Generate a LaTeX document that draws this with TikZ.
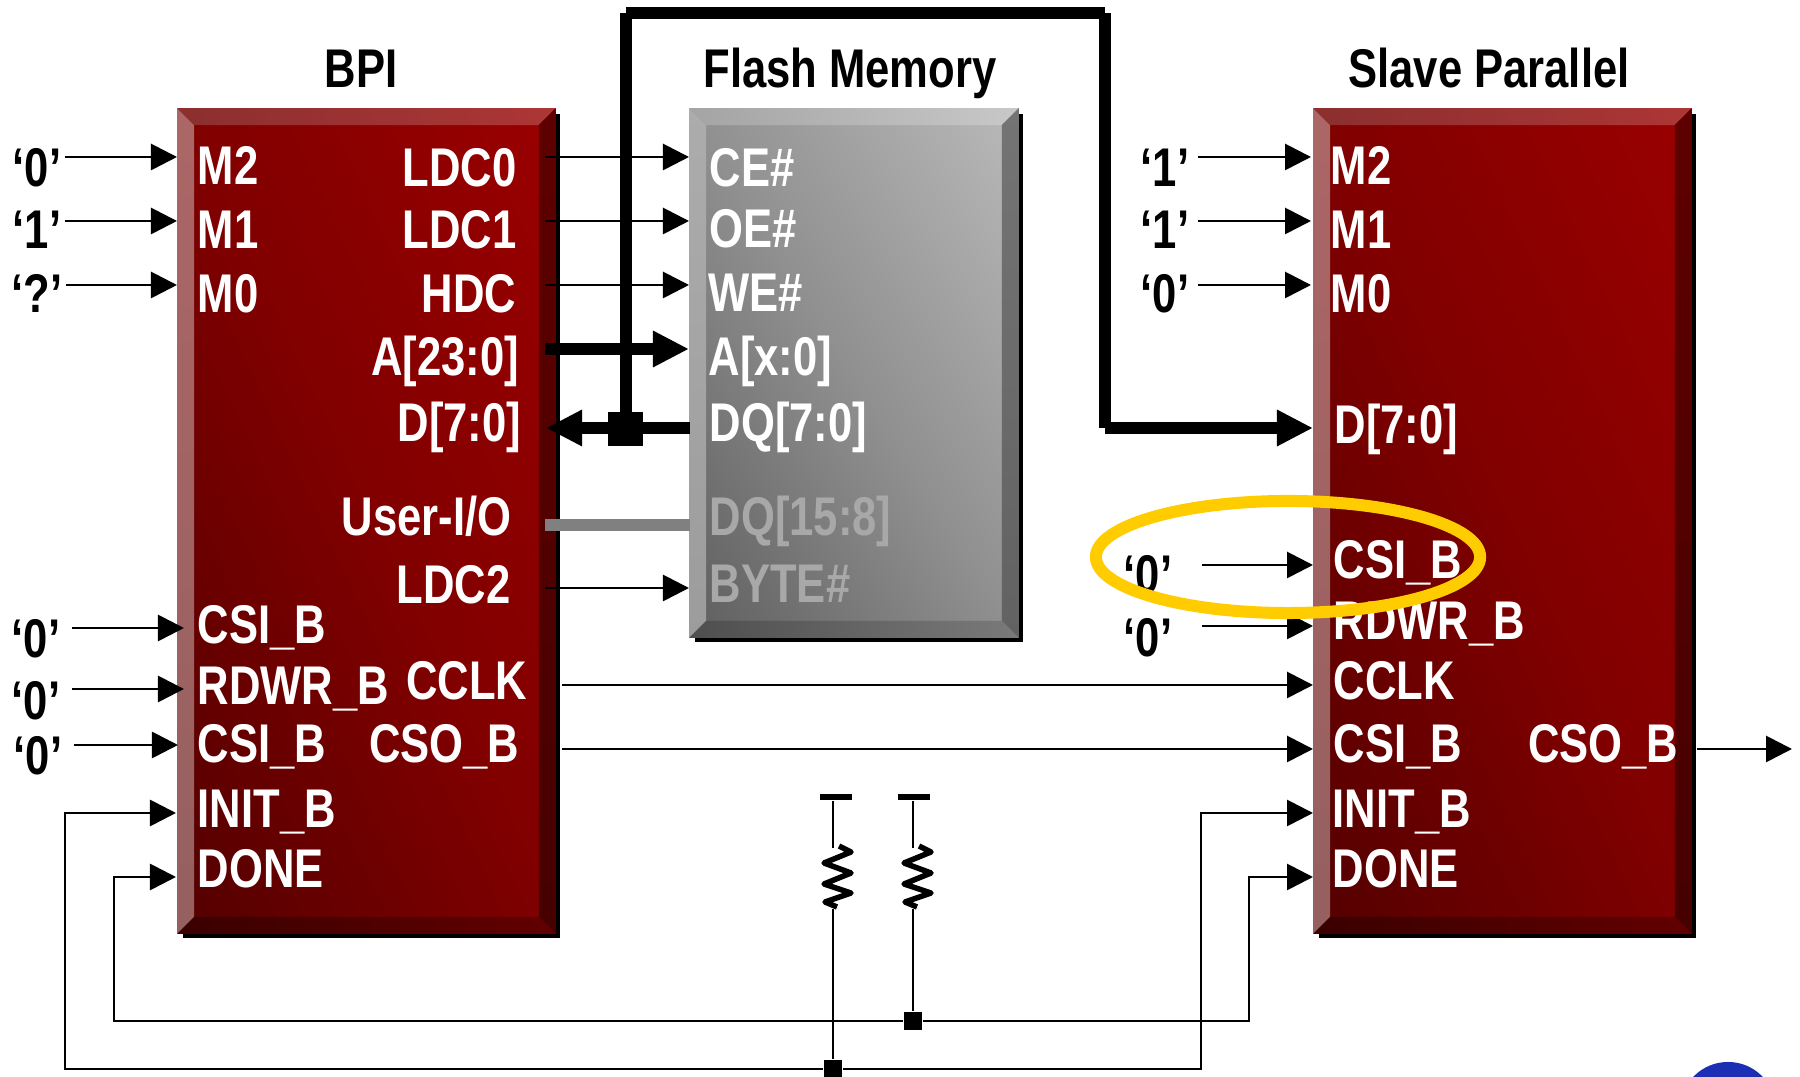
\documentclass[tikz,border=0pt]{standalone}
\usepackage{fontspec}
\usepackage{tikz}
\usetikzlibrary{arrows.meta}
\usetikzlibrary{calc}
\usetikzlibrary{shadows}
\usetikzlibrary{shapes.geometric}
\newfontfamily\pinfont[FakeStretch=0.8]{Liberation Sans}
\definecolor{hiliteyellow}{HTML}{FFCC00}
\definecolor{logoblue}{HTML}{1C2FB4}
% block faces
\definecolor{redlow}{HTML}{3C0000}
\definecolor{redmid}{HTML}{800000}
\definecolor{redhigh}{HTML}{A80000}
\definecolor{greylow}{HTML}{484848}
\definecolor{greymid}{HTML}{909090}
\definecolor{greyhigh}{HTML}{CCCCCC}
% bevel colours, one set for each face
\definecolor{redLb}{HTML}{956060}
\definecolor{redLt}{HTML}{AC6666}
\definecolor{redTl}{HTML}{8C2F2F}
\definecolor{redTr}{HTML}{AC3636}
\definecolor{redRb}{HTML}{460000}
\definecolor{redRt}{HTML}{5E0000}
\definecolor{redBl}{HTML}{3A0000}
\definecolor{redBr}{HTML}{620000}
\definecolor{greyLb}{HTML}{9C9C9C}
\definecolor{greyLt}{HTML}{ACACAC}
\definecolor{greyTl}{HTML}{A4A4A4}
\definecolor{greyTr}{HTML}{C8C8C8}
\definecolor{greyRb}{HTML}{626262}
\definecolor{greyRt}{HTML}{747474}
\definecolor{greyBl}{HTML}{4E4E4E}
\definecolor{greyBr}{HTML}{7A7A7A}
\pgfdeclareverticalshading{redface}{100bp}{color(0bp)=(redlow);color(50bp)=(redmid);color(100bp)=(redhigh)}
\pgfdeclareverticalshading{greyface}{100bp}{color(0bp)=(greylow);color(50bp)=(greymid);color(100bp)=(greyhigh)}
\tikzset{
    block/.style={
           rectangle,
           inner sep=0pt,
           minimum width=3.77cm,
           minimum height=8.24cm,
           general shadow={fill=black,shadow xshift=.05cm,shadow yshift=-.05cm},
           },
    redblock/.style={block,shade,shading=redface,shading angle=-65},
    greyblock/.style={block,minimum width=3.28cm,minimum height=5.28cm,
           shade,shading=greyface,shading angle=-58},
    pin/.style={
           font=\pinfont\bfseries\fontsize{15.5}{18}\selectfont,
           text=white,
           inner sep=0pt,
           },
    pinw/.style={pin,anchor=base west},
    pine/.style={pin,anchor=base east},
    fadedpin/.style={pinw,text=black!34},
    title/.style={pin,text=black,anchor=base},
    bit/.style={pin,text=black,anchor=base,inner ysep=0pt},
    wire/.style={line width=.028cm},
    sig/.style={wire,-{Triangle[length=.26cm,width=.26cm]}},
    busline/.style={line width=.12cm},
    bus/.style={busline,-{Triangle[length=.36cm,width=.34cm]}},
    joint/.style={rectangle,fill=black,inner sep=0pt},
    rail/.style={rectangle,fill=black,inner sep=0pt,minimum width=.32cm,minimum height=.06cm},
}
% bevel edges of a block, corners taken from the node
\newcommand{\bevels}[2]{
 \coordinate (i1) at ($(#1.north west)+(17,17)$);
 \coordinate (i2) at ($(#1.north east)+(-17,17)$);
 \coordinate (i3) at ($(#1.south east)+(-17,-17)$);
 \coordinate (i4) at ($(#1.south west)+(17,-17)$);
 \shade[bottom color=#2Lb,top color=#2Lt] (#1.north west) -- (i1) -- (i4) -- (#1.south west) -- cycle;
 \shade[left color=#2Tl,right color=#2Tr] (#1.north west) -- (#1.north east) -- (i2) -- (i1) -- cycle;
 \shade[bottom color=#2Rb,top color=#2Rt] (#1.north east) -- (#1.south east) -- (i3) -- (i2) -- cycle;
 \shade[left color=#2Bl,right color=#2Br] (#1.south west) -- (#1.south east) -- (i3) -- (i4) -- cycle;
}
\newcommand{\zigzag}[1]{
 \draw[line width=.055cm,line join=round] ($(#1)+(6,-2)$) -- ++(12,6) -- ++(-27,11) -- ++(27,10)
   -- ++(-27,11) -- ++(27,9) -- ++(-26,9) -- ++(12,5);
}
\begin{document}
\begin{tikzpicture}[x=.01cm,y=-.01cm]
 \useasboundingbox (0,0) rectangle (1800,1077);
 \fill[white] (0,0) rectangle (1800,1077);

 % the three blocks
 \node[redblock] (BPI) at (366.5,521) {};
 \bevels{BPI}{red}
 \node[greyblock] (FLASH) at (854,373) {};
 \bevels{FLASH}{grey}
 \node[redblock] (SLAVE) at (1502.5,521) {};
 \bevels{SLAVE}{red}

 % titles
 \node[title] (tBPI) at (361,88) {BPI};
 \node[title] (tFLASH) at (850,88) {Flash Memory};
 \node[title] (tSLAVE) at (1489,88) {Slave Parallel};

 % pins of BPI
 \node[pinw] (bM2) at (197,185) {M2};
 \node[pinw] (bM1) at (197,249) {M1};
 \node[pinw] (bM0) at (197,313) {M0};
 \node[pine] (bLDC0) at (517,187) {LDC0};
 \node[pine] (bLDC1) at (517,249) {LDC1};
 \node[pine] (bHDC) at (517,313) {HDC};
 \node[pine] (bA) at (520,376) {A[23:0]};
 \node[pine] (bD) at (522,442) {D[7:0]};
 \node[pine] (bUSER) at (512,536) {User-I/O};
 \node[pine] (bLDC2) at (511,604) {LDC2};
 \node[pinw] (bCSI) at (197,644) {CSI\_B};
 \node[pinw] (bRDWR) at (197,705) {RDWR\_B};
 \node[pine] (bCCLK) at (528,700) {CCLK};
 \node[pinw] (bCSIb) at (197,763) {CSI\_B};
 \node[pine] (bCSO) at (520,763) {CSO\_B};
 \node[pinw] (bINIT) at (197,828) {INIT\_B};
 \node[pinw] (bDONE) at (197,888) {DONE};

 % pins of the memory
 \node[pinw] (fCE) at (709,187) {CE\#};
 \node[pinw] (fOE) at (709,248) {OE\#};
 \node[pinw] (fWE) at (708,312) {WE\#};
 \node[pinw] (fA) at (708,376) {A[x:0]};
 \node[pinw] (fDQ) at (709,442) {DQ[7:0]};
 \node[fadedpin] (fDQh) at (709,536) {DQ[15:8]};
 \node[fadedpin] (fBYTE) at (709,603) {BYTE\#};

 % pins of the slave
 \node[pinw] (sM2) at (1330,185) {M2};
 \node[pinw] (sM1) at (1330,249) {M1};
 \node[pinw] (sM0) at (1330,313) {M0};
 \node[pinw] (sD) at (1334,444) {D[7:0]};
 \node[pinw] (sCSI) at (1333,579) {CSI\_B};
 \node[pinw] (sRDWR) at (1333,640) {RDWR\_B};
 \node[pinw] (sCCLK) at (1333,700) {CCLK};
 \node[pinw] (sCSIb) at (1333,763) {CSI\_B};
 \node[pine] (sCSO) at (1679,763) {CSO\_B};
 \node[pinw] (sINIT) at (1332,828) {INIT\_B};
 \node[pinw] (sDONE) at (1332,888) {DONE};

 % constant levels
 \node[bit,inner xsep=.03cm] (bit0) at (37,187) {‘0’};
 \node[bit,inner xsep=.03cm] (bit1) at (37,249) {‘1’};
 \node[bit,inner xsep=.03cm] (bit2) at (37,313) {‘?’};
 \node[bit,inner xsep=.11cm] (bit3) at (36,658) {‘0’};
 \node[bit,inner xsep=.11cm] (bit4) at (36,720) {‘0’};
 \node[bit,inner xsep=.11cm] (bit5) at (38,775) {‘0’};
 \node[bit,inner xsep=.085cm] (bit6) at (1165,187) {‘1’};
 \node[bit,inner xsep=.085cm] (bit7) at (1165,249) {‘1’};
 \node[bit,inner xsep=.085cm] (bit8) at (1165,313) {‘0’};
 \node[bit,inner xsep=.29cm] (bit9) at (1148,594) {‘0’};
 \node[bit,inner xsep=.29cm] (bit10) at (1148,657) {‘0’};

 % arrow ends at the blocks
 \coordinate (iM2) at (177,157);
 \coordinate (iM1) at (177,221);
 \coordinate (iM0) at (177,285);
 \coordinate (iCSI) at (184,628);
 \coordinate (iRDWR) at (184,689);
 \coordinate (iCSIb) at (178,745);
 \coordinate (iINIT) at (176,813);
 \coordinate (iDONE) at (176,877);
 \coordinate (oLDC0) at (545,157);
 \coordinate (oLDC1) at (545,221);
 \coordinate (oHDC) at (545,285);
 \coordinate (oA) at (545,349);
 \coordinate (oD) at (546,428);
 \coordinate (oUSER) at (545,525);
 \coordinate (oLDC2) at (545,588);
 \coordinate (oCCLK) at (562,685);
 \coordinate (oCSO) at (562,749);
 \coordinate (xCE) at (689,157);
 \coordinate (xOE) at (689,221);
 \coordinate (xWE) at (689,285);
 \coordinate (xA) at (689,349);
 \coordinate (xDQ) at (690,428);
 \coordinate (xDQh) at (690,525);
 \coordinate (xBYTE) at (689,588);
 \coordinate (yM2) at (1311,157);
 \coordinate (yM1) at (1311,221);
 \coordinate (yM0) at (1311,285);
 \coordinate (yD) at (1313,428);
 \coordinate (yCSI) at (1313,565);
 \coordinate (yRDWR) at (1313,626);
 \coordinate (yCCLK) at (1313,685);
 \coordinate (yCSIb) at (1313,749);
 \coordinate (yINIT) at (1313,813);
 \coordinate (yDONE) at (1313,877);
 \coordinate (zCSO) at (1697,749);
 \coordinate (zOUT) at (1792,749);

 % levels into the pins
 \draw[sig] (bit0.east |- iM2) -- (iM2);
 \draw[sig] (bit1.east |- iM1) -- (iM1);
 \draw[sig] (bit2.east |- iM0) -- (iM0);
 \draw[sig] (bit3.east |- iCSI) -- (iCSI);
 \draw[sig] (bit4.east |- iRDWR) -- (iRDWR);
 \draw[sig] (bit5.east |- iCSIb) -- (iCSIb);
 \draw[sig] (bit6.east |- yM2) -- (yM2);
 \draw[sig] (bit7.east |- yM1) -- (yM1);
 \draw[sig] (bit8.east |- yM0) -- (yM0);
 \draw[sig] (bit9.east |- yCSI) -- (yCSI);
 \draw[sig] (bit10.east |- yRDWR) -- (yRDWR);

 % BPI to memory
 \draw[sig] (oLDC0) -- (xCE);
 \draw[sig] (oLDC1) -- (xOE);
 \draw[sig] (oHDC) -- (xWE);
 \draw[sig] (oLDC2) -- (xBYTE);
 \draw[bus] (oA) -- (xA);
 \draw[line width=.12cm,black!50] (oUSER) -- (xDQh);

 % data bus, corners left stepped
 \node[joint,minimum width=.34cm,minimum height=.34cm] (dqjoin) at (625.5,429) {};
 \coordinate (topleft) at (625.5,13);
 \coordinate (topright) at (1105,13);
 \coordinate (drop) at (1105,428);
 \draw[bus] (xDQ) -- (oD);
 \draw[busline] (dqjoin.center) -- (topleft);
 \draw[busline] (topleft) -- (topright);
 \draw[busline] (topright) -- (drop);
 \draw[bus] (drop) -- (yD);

 % BPI to slave
 \draw[sig] (oCCLK) -- (yCCLK);
 \draw[sig] (oCSO) -- (yCSIb);
 \draw[sig] (zCSO) -- (zOUT);

 % pull-ups and the two shared nets
 \node[rail] (vccA) at (836,797) {};
 \node[rail] (vccB) at (914,797) {};
 \node[joint,minimum width=.18cm,minimum height=.18cm] (jInit) at (833,1069) {};
 \node[joint,minimum width=.18cm,minimum height=.18cm] (jDone) at (913,1021) {};
 \coordinate (raTop) at (833,848);
 \coordinate (raBot) at (833,909);
 \coordinate (rbTop) at (913,848);
 \coordinate (rbBot) at (913,909);
 \draw[wire] (vccA.south -| raTop) -- (raTop);
 \draw[wire] (raBot) -- (jInit);
 \draw[wire] (vccB.south -| rbTop) -- (rbTop);
 \draw[wire] (rbBot) -- (jDone);
 \zigzag{raTop}
 \zigzag{rbTop}

 \coordinate (lowInitL) at (65,1069);
 \coordinate (lowInitR) at (1201,1069);
 \coordinate (lowDoneL) at (114,1021);
 \coordinate (lowDoneR) at (1249,1021);
 \draw[sig] (jInit) -- (lowInitL) |- (iINIT);
 \draw[sig] (jInit) -- (lowInitR) |- (yINIT);
 \draw[sig] (jDone) -- (lowDoneL) |- (iDONE);
 \draw[sig] (jDone) -- (lowDoneR) |- (yDONE);

 % highlight
 \node[ellipse,draw=hiliteyellow,line width=.12cm,minimum width=3.84cm,minimum height=1.12cm,inner sep=0pt] (hilite) at (1288,557) {};

 % corner of the logo
 \fill[logoblue] (1728,1110) circle (.48cm);
\end{tikzpicture}
\end{document}
